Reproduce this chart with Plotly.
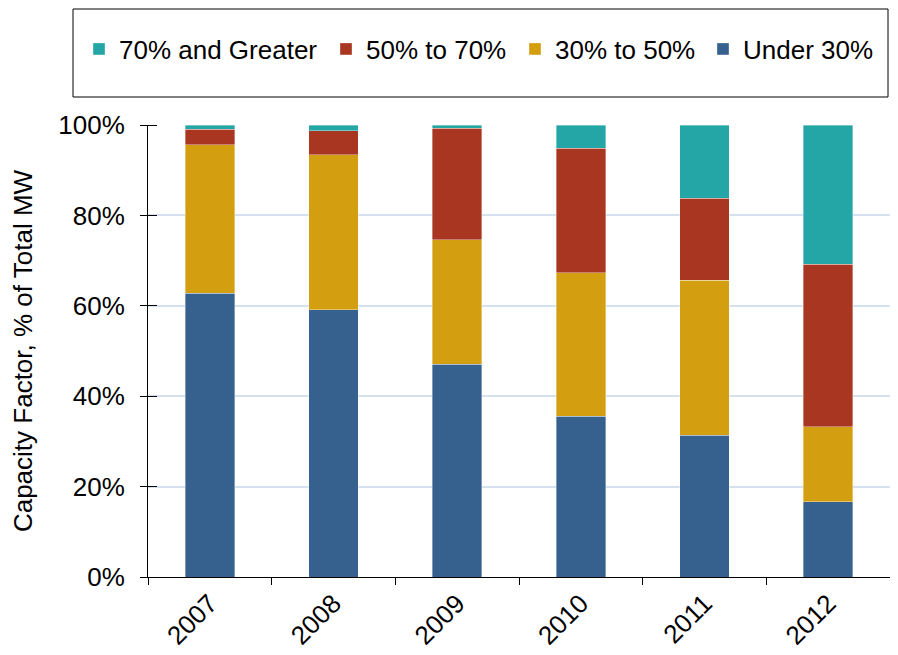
import plotly.graph_objects as go

years = ["2007", "2008", "2009", "2010", "2011", "2012"]
under30 = [62.8, 59.1, 47.1, 35.6, 31.4, 16.6]
p30_50 = [32.8, 34.3, 27.5, 31.7, 34.3, 16.6]
p50_70 = [3.5, 5.3, 24.7, 27.6, 18.1, 36.0]
p70_up = [0.9, 1.3, 0.7, 5.1, 16.2, 30.8]

series = [
    ("Under 30%", under30, "#36618F", "legend4"),
    ("30% to 50%", p30_50, "#D39F10", "legend3"),
    ("50% to 70%", p50_70, "#A93620", "legend2"),
    ("70% and Greater", p70_up, "#23A6A5", "legend"),
]

fig = go.Figure()
for name, vals, col, lg in series:
    fig.add_trace(go.Bar(
        x=years, y=vals, name=name, width=0.4, legend=lg,
        marker=dict(color=col, line=dict(color="rgba(255,255,255,0.45)", width=0.8)),
    ))

# page has an 8px body margin; figure coordinates = page coordinates - 8
OFF = 8
W, H = 898 - 2 * OFF, 655 - OFF
L, R, T = 148 - OFF, 0, 125 - OFF
B = H - (577 - OFF)
pw, ph = W - L - R, H - T - B

def px_x(p):
    return (p - OFF - L) / pw

def px_y(p):
    return (H - B - (p - OFF)) / ph

leg_common = dict(orientation="h", yanchor="middle", y=px_y(49), xanchor="left",
                  font=dict(size=26), bgcolor="rgba(0,0,0,0)", borderwidth=0, itemwidth=30)

fig.update_layout(
    width=W, height=H,
    barmode="stack",
    plot_bgcolor="white", paper_bgcolor="white",
    margin=dict(l=L, r=R, t=T, b=B, autoexpand=False),
    font=dict(family="Liberation Sans, Arial, sans-serif", color="black", size=26),
    showlegend=True,
    legend=dict(x=px_x(117 - 38), **leg_common),
    legend2=dict(x=px_x(364 - 38), **leg_common),
    legend3=dict(x=px_x(553 - 38), **leg_common),
    legend4=dict(x=px_x(741 - 38), **leg_common),
    shapes=[dict(
        type="rect", xref="paper", yref="paper",
        x0=px_x(73), x1=px_x(888), y0=px_y(97), y1=px_y(OFF + 1),
        line=dict(color="black", width=1), fillcolor="rgba(0,0,0,0)",
    )],
)

fig.update_yaxes(
    range=[0, 100], tickvals=[0, 20, 40, 60, 80, 100],
    ticktext=["0%", "20%", "40%", "60%", "80%", "100%"],
    showgrid=True, gridcolor="#D6E1F0", gridwidth=2,
    showline=True, linecolor="black", linewidth=1,
    ticks="outside", ticklen=7, tickcolor="black", ticklabelstandoff=10,
    minor=dict(tickvals=[0, 20, 40, 60, 80, 100], ticks="inside", ticklen=9,
               tickcolor="black", showgrid=False),
    title=dict(text="Capacity Factor, % of Total MW", font=dict(size=26), standoff=22),
    zeroline=False, automargin=False,
)
fig.update_xaxes(
    showline=True, linecolor="black", linewidth=1,
    ticks="outside", ticklen=7, tickcolor="black", tickson="boundaries",
    tickangle=-45, showgrid=False, automargin=False,
)

fig.write_html("out.html")
